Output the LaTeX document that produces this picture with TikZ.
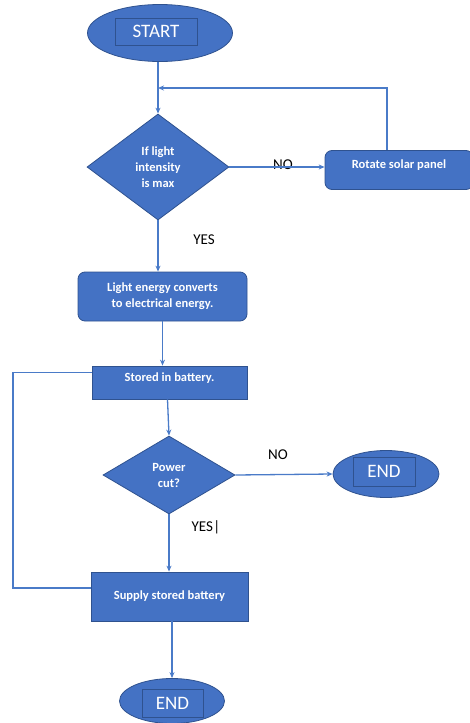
\documentclass[tikz,border=0pt]{standalone}
\usepackage{fontspec}
\setmainfont{Carlito}
\usetikzlibrary{shapes.geometric,arrows.meta}
\definecolor{boxblue}{HTML}{4472C4}
\definecolor{edgeblue}{HTML}{2F528F}
\definecolor{lineblue}{HTML}{4A7BC8}
\tikzset{
  boxstyle/.style={draw=edgeblue,fill=boxblue,line width=0.8pt,text=white,font=\bfseries\fontsize{12.5}{16}\selectfont,align=center,inner sep=0pt},
  roundbox/.style={boxstyle,rectangle,rounded corners=7pt},
  plainbox/.style={boxstyle,rectangle},
  decision/.style={boxstyle,diamond,aspect=1},
  terminal/.style={draw=edgeblue,fill=boxblue,line width=0.8pt,ellipse,inner sep=0pt},
  termtext/.style={draw=edgeblue,line width=0.8pt,rectangle,inner sep=0pt,text=white,font=\fontsize{19}{21}\selectfont},
  conn/.style={draw=lineblue,line width=1.3pt,-{Stealth[length=6pt,width=5pt]}},
  plainconn/.style={draw=lineblue,line width=1.3pt},
  lbl/.style={text=black,font=\fontsize{15}{17}\selectfont,inner sep=0pt}
}
\begin{document}
\begin{tikzpicture}[x=1pt,y=-1pt]
\useasboundingbox (0,0) rectangle (469,723);
% nodes
\node[terminal,minimum width=145pt,minimum height=57pt] (start) at (160,33) {};
\node[termtext,minimum width=82pt,minimum height=27pt] (starttext) at (156,31.5) {START};
\node[decision,minimum width=142pt,minimum height=106pt] (d1) at (158,167) {If light\\intensity\\is max};
\node[roundbox,minimum width=148pt,minimum height=39pt,text depth=12pt] (rotate) at (399,170) {Rotate solar panel};
\node[roundbox,minimum width=169pt,minimum height=49pt] (conv) at (162.5,296.5) {Light energy converts\\to electrical energy.};
\node[plainbox,minimum width=155pt,minimum height=33pt,text depth=10pt] (stored) at (169.5,382.5) {Stored in battery.};
\node[decision,minimum width=132pt,minimum height=78pt] (d2) at (169,475) {Power\\cut?};
\node[terminal,minimum width=106pt,minimum height=47pt] (end1) at (386,474) {};
\node[termtext,minimum width=62pt,minimum height=29pt] (end1text) at (384,471.5) {END};
\node[plainbox,minimum width=157pt,minimum height=49pt] (supply) at (169.5,596.5) {Supply stored battery};
\node[terminal,minimum width=105pt,minimum height=45pt] (end2) at (172,701) {};
\node[termtext,minimum width=61pt,minimum height=28pt] (end2text) at (172.5,703) {END};
% labels
\node[lbl] (no1) at (283,165) {NO};
\node[lbl] (yes1) at (204,240) {YES};
\node[lbl] (no2) at (278,455) {NO};
\node[lbl] (yes2) at (206,527) {YES\kern0.5pt|};
% coordinates
\coordinate (join) at (158,88);
\coordinate (lefttop) at (13,372.5);
% connectors
\draw[conn] (start.south -| d1.north) -- (d1.north);
\draw[conn] (d1.east) -- (d1.east -| rotate.west);
\draw[conn] ([xshift=-12pt]rotate.north) |- (join);
\draw[conn] (d1.south) -- (d1.south |- conv.north);
\draw[conn] (conv.south) -- (conv.south |- stored.north);
\draw[conn] ([xshift=-2pt]stored.south) -- (d2.north);
\draw[conn] (d2.east) -- (end1.west);
\draw[conn] (d2.south) -- (d2.south |- supply.north);
\draw[plainconn] ([yshift=10pt]stored.west) -- (lefttop) |- ([yshift=8.5pt]supply.west);
\draw[conn] ([xshift=2.5pt]supply.south) -- ([xshift=2.5pt]supply.south |- end2.north);
\end{tikzpicture}
\end{document}
